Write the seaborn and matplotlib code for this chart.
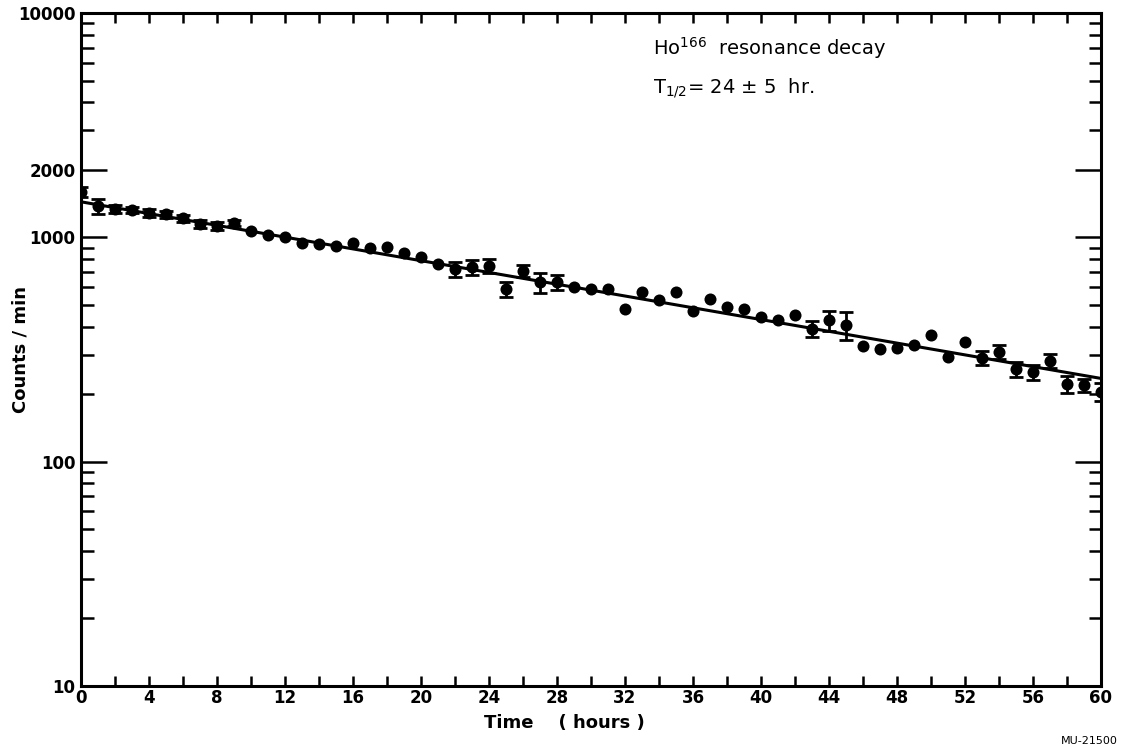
import numpy as np
import pandas as pd
import matplotlib
matplotlib.use("Agg")
import matplotlib.pyplot as plt
from matplotlib.ticker import FixedLocator, NullFormatter
import seaborn as sns

# ---- data ----
times = list(range(61))
counts = [1600, 1380, 1335, 1320, 1280, 1265, 1215, 1145, 1125, 1155,
          1070, 1025, 1000, 946, 933, 914, 946, 894, 904, 849,
          820, 760, 720, 734, 745, 586, 710, 630, 630, 602,
          588, 588, 478, 569, 525, 570, 469, 533, 491, 479,
          443, 427, 449, 392, 427, 406, 329, 318, 320, 331,
          367, 292, 340, 291, 309, 258, 250, 282, 222, 219, 205]
err_pct = [5, 7.5, 4, 3, 4, 4, 4, 4, 4, 3,
           0, 0, 0, 0, 0, 0, 0, 0, 0, 0,
           0, 0, 7.8, 7.5, 7, 7.5, 6, 10, 8, 0,
           0, 0, 0, 0, 0, 0, 0, 0, 0, 0,
           0, 0, 0, 8, 10, 14, 0, 0, 0, 0,
           0, 0, 0, 7, 7.5, 8, 7.5, 7, 8.5, 7, 9]
fit_t = [0, 60]
fit_counts = [1440, 235]

x_ticks = list(range(0, 61, 4))
x_minor = list(range(0, 61, 2))
y_major = [10, 100, 1000, 2000, 10000]
y_major_labels = ["10", "100", "1000", "2000", "10000"]

df = pd.DataFrame({"t": times, "c": counts, "e": err_pct})
fit_df = pd.DataFrame({"t": fit_t, "c": fit_counts})

sns.set_style("ticks")
plt.rcParams["font.family"] = ["DejaVu Sans"]
plt.rcParams["text.color"] = "black"
plt.rcParams["axes.labelcolor"] = "black"
plt.rcParams["xtick.color"] = "black"
plt.rcParams["ytick.color"] = "black"

fig = plt.figure(figsize=(11.23, 7.56), dpi=100)
ax = fig.add_axes([81 / 1123, 1 - 686 / 756, (1101 - 81) / 1123, (686 - 13) / 756])

ax.set_yscale("log")
ax.set_xlim(0, 60)
ax.set_ylim(10, 10000)

sns.lineplot(data=fit_df, x="t", y="c", ax=ax, color="black", linewidth=2.2)

eb = df[df["e"] > 0]
ax.errorbar(eb["t"], eb["c"], yerr=eb["c"] * eb["e"] / 100.0, fmt="none",
            ecolor="black", elinewidth=2.0, capsize=5, capthick=2.0, zorder=3)
sns.scatterplot(data=df, x="t", y="c", ax=ax, color="black", s=75,
                edgecolor="black", linewidth=0, zorder=4, legend=False)

for sp in ax.spines.values():
    sp.set_linewidth(2.2)
    sp.set_color("black")

ax.xaxis.set_major_locator(FixedLocator(x_ticks))
ax.xaxis.set_minor_locator(FixedLocator(x_minor))
ax.set_xticklabels([str(v) for v in x_ticks])
ax.yaxis.set_major_locator(FixedLocator(y_major))
ax.set_yticklabels(y_major_labels)
y_minor = [m * d for d in (10, 100, 1000) for m in range(2, 10)]
ax.yaxis.set_minor_locator(FixedLocator(y_minor))
ax.yaxis.set_minor_formatter(NullFormatter())

ax.tick_params(axis="both", which="both", direction="in", top=True, right=True,
               color="black", width=1.8)
ax.tick_params(axis="x", which="both", length=7, labelsize=12, pad=2)
ax.tick_params(axis="y", which="major", length=19, labelsize=12, pad=4)
ax.tick_params(axis="y", which="minor", length=9)
for lbl in ax.get_xticklabels() + ax.get_yticklabels():
    lbl.set_fontweight("bold")

ax.set_xlabel("Time    ( hours )", fontsize=13, fontweight="bold")
ax.xaxis.set_label_coords(0.474, -0.042)
ax.set_ylabel("Counts / min", fontsize=13, fontweight="bold")
ax.yaxis.set_label_coords(-0.05, 0.5)

ax.text(0.561, 0.948, "Ho$^{166}$  resonance decay", transform=ax.transAxes,
        fontsize=14, ha="left", va="center", fontweight="medium")
ax.text(0.561, 0.888, "T$_{1/2}$= 24 ± 5  hr.", transform=ax.transAxes,
        fontsize=14, ha="left", va="center", fontweight="medium")

fig.text(1118 / 1123, 1 - 741 / 756, "MU-21500", fontsize=8, ha="right", va="center")

fig.savefig("out.png", dpi=100)
